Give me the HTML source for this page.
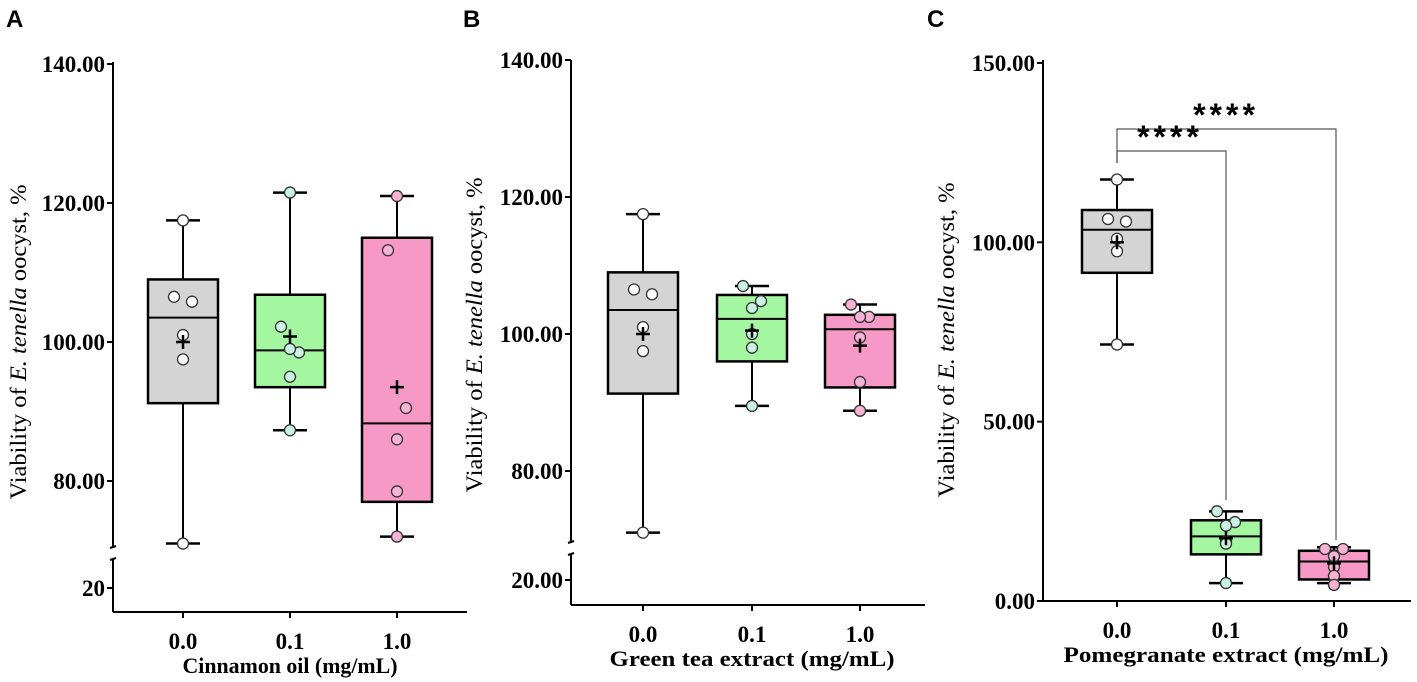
<!DOCTYPE html>
<html><head><meta charset="utf-8"><style>
body{margin:0;background:#fff;}
svg{display:block;font-family:"Liberation Serif",serif;}
.tk{font-weight:bold;font-size:23px;}
.tt{font-weight:bold;font-size:22px;}
.yt{font-weight:normal;font-size:23px;}
</style></head><body>
<svg id="chart" width="1417" height="682" viewBox="0 0 1417 682" xmlns="http://www.w3.org/2000/svg"></svg>
<script>
const categories = ["0.0","0.1","1.0"];
// Panel A - cinnamon oil
const aQ1=[91.2,93.5,77], aQ3=[109,106.8,115], aMed=[103.5,98.8,88.3], aMean=[100,100.8,93.5];
const aMin=[71,87.3,72], aMax=[117.5,121.5,121];
const aPts=[[106.5,105.8,101,97.5,117.5,71],[102.2,98.5,99,95,121.5,87.3],[113.2,90.5,86,78.5,121,72]];
// Panel B - green tea
const bQ1=[91.3,96,92.2], bQ3=[109,105.7,102.8], bMed=[103.5,102.2,100.7], bMean=[100,100.5,98.3];
const bMin=[71,89.5,88.8], bMax=[117.5,107,104.3];
const bPts=[[106.5,105.8,101,97.5,117.5,71],[107,104.8,103.8,100,98,89.5],[104.3,102.5,102.5,99.5,93,88.8]];
// Panel C - pomegranate
const cQ1=[91.5,13,6], cQ3=[109,22.5,14], cMed=[103.5,18,11], cMean=[100,17.5,10.5];
const cMin=[71.5,5,5], cMax=[117.5,25,15];
const cPts=[[106.5,105.8,101,97.5,117.5,71.5],[25,22,21,16.5,16,5],[14.5,14.5,12.5,9.5,7,4.5]];
const aTicks=["140.00","120.00","100.00","80.00"], aTickVals=[140,120,100,80];
const bTicks=["140.00","120.00","100.00","80.00"], bTickVals=[140,120,100,80];
const cTicks=["150.00","100.00","50.00","0.00"], cTickVals=[150,100,50,0];

const NS="http://www.w3.org/2000/svg";
const svg=document.getElementById('chart');
function mk(tag,attrs,parent,name){const e=document.createElementNS(NS,tag);for(const k in attrs)e.setAttribute(k,attrs[k]);(parent||svg).appendChild(e);


return e;}
const fills=["#d4d4d4","#a4f7a0","#f799c6"], ptFill=["#ffffff","#c9f2e2","#f6b3d3"];

function panel(p){
  const g=mk('g',{},svg,p.id);
  const y=p.y;
  if(p.brk){
    mk('line',{x1:p.ax,y1:p.top,x2:p.ax,y2:p.brk[0],stroke:'#000','stroke-width':2},g,'y-axis-upper');
    mk('line',{x1:p.ax,y1:p.brk[1],x2:p.ax,y2:p.bot,stroke:'#000','stroke-width':2},g,'y-axis-lower');
    mk('line',{x1:p.ax-3,y1:p.brk[0],x2:p.ax+3,y2:p.brk[0]-2,stroke:'#000','stroke-width':2},g,'axis-break-mark');
    mk('line',{x1:p.ax-3,y1:p.brk[1]+2,x2:p.ax+3,y2:p.brk[1],stroke:'#000','stroke-width':2},g,'axis-break-mark');
    mk('line',{x1:p.ax-6,y1:p.lowY,x2:p.ax,y2:p.lowY,stroke:'#000','stroke-width':2},g,'y-tick');
    const t=mk('text',{x:p.ax-8,y:p.lowY+8,'text-anchor':'end',class:'tk'},g,'y-tick-label');t.textContent=p.lowLab;
  } else mk('line',{x1:p.ax,y1:p.top,x2:p.ax,y2:p.bot,stroke:'#000','stroke-width':2},g,'y-axis');
  mk('line',{x1:p.ax,y1:p.bot,x2:p.xend,y2:p.bot,stroke:'#000','stroke-width':2},g,'x-axis');
  p.tv.forEach((v,i)=>{mk('line',{x1:p.ax-6,y1:y(v),x2:p.ax,y2:y(v),stroke:'#000','stroke-width':2},g,'y-tick');
    const t=mk('text',{x:p.ax-8,y:y(v)+8,'text-anchor':'end',class:'tk'},g,'y-tick-label');t.textContent=p.tl[i];});
  categories.forEach((c,i)=>{const x=p.cx[i];
    mk('line',{x1:x,y1:p.bot,x2:x,y2:p.bot+6,stroke:'#000','stroke-width':2},g,'x-tick');
    const t=mk('text',{x:x,y:p.bot+37,'text-anchor':'middle',class:'tk'},g,'x-tick-label');t.textContent=c;
    const hw=35;
    mk('line',{x1:x,y1:y(p.max[i]),x2:x,y2:y(p.min[i]),stroke:'#000','stroke-width':2},g,'whisker');
    mk('line',{x1:x-17,y1:y(p.max[i]),x2:x+17,y2:y(p.max[i]),stroke:'#000','stroke-width':2.5},g,'whisker-cap-max');
    mk('line',{x1:x-17,y1:y(p.min[i]),x2:x+17,y2:y(p.min[i]),stroke:'#000','stroke-width':2.5},g,'whisker-cap-min');
    mk('rect',{x:x-hw,y:y(p.q3[i]),width:2*hw,height:y(p.q1[i])-y(p.q3[i]),fill:fills[i],stroke:'#000','stroke-width':2.5},g,'box-'+c);
    mk('line',{x1:x-hw,y1:y(p.med[i]),x2:x+hw,y2:y(p.med[i]),stroke:'#000','stroke-width':2},g,'median-line');
    p.pts[i].forEach((v,j)=>{const dx=(j<2)?(j==0?-9:9):0;
      mk('circle',{cx:x+dx,cy:y(v),r:5.5,fill:ptFill[i],stroke:'#333','stroke-width':1.3},g,'data-point');});
    const my=y(p.mean[i]);
    mk('path',{d:`M${x-7},${my}H${x+7}M${x},${my-7}V${my+7}`,stroke:'#000','stroke-width':2.5},g,'mean-marker');
  });
  const yt=mk('text',{x:0,y:0,'text-anchor':'middle',class:'yt',textLength:'315',lengthAdjust:'spacingAndGlyphs',transform:`translate(${p.tx},${p.tyc}) rotate(-90)`},g,'y-axis-title');
  yt.innerHTML='Viability of <tspan font-style="italic">E. tenella</tspan> oocyst, %';
  const xt=mk('text',{x:p.cx[1],y:p.bot+61,'text-anchor':'middle',class:'tt',textLength:p.xtl,lengthAdjust:'spacingAndGlyphs'},g,'x-axis-title');xt.textContent=p.xt;
  const L=mk('text',{x:p.lx,y:27,'font-family':'Liberation Sans','font-weight':'bold','font-size':'24'},g,'panel-label');L.textContent=p.id.slice(-1).toUpperCase();
  return g;
}
panel({id:'panel-a',ax:113,top:62,bot:612,xend:467,brk:[548,558],lowY:588,lowLab:'20',y:v=>342-(v-100)*6.95,
  tv:aTickVals,tl:aTicks,cx:[183,290,397],q1:aQ1,q3:aQ3,med:aMed,mean:aMean,min:aMin,max:aMax,pts:aPts,tx:26,tyc:342,xt:'Cinnamon oil (mg/mL)',xtl:215,lx:6});
panel({id:'panel-b',ax:571,top:60,bot:605,xend:925,brk:[543,553],lowY:580,lowLab:'20.00',y:v=>334-(v-100)*6.85,
  tv:bTickVals,tl:bTicks,cx:[643,752,860],q1:bQ1,q3:bQ3,med:bMed,mean:bMean,min:bMin,max:bMax,pts:bPts,tx:482,tyc:335,xt:'Green tea extract (mg/mL)',xtl:285,lx:463});
const pc=panel({id:'panel-c',ax:1043,top:60,bot:601,xend:1411,y:v=>601-v*3.587,
  tv:cTickVals,tl:cTicks,cx:[1117,1226,1334],q1:cQ1,q3:cQ3,med:cMed,mean:cMean,min:cMin,max:cMax,pts:cPts,tx:954,tyc:340,xt:'Pomegranate extract (mg/mL)',xtl:325,lx:927});
mk('path',{d:'M1117,163V129H1336V540',fill:'none',stroke:'#555','stroke-width':1.2},pc,'bracket-0-vs-1');
mk('path',{d:'M1117,163V151H1226V500',fill:'none',stroke:'#555','stroke-width':1.2},pc,'bracket-0-vs-01');
let s=mk('text',{x:1226,y:126,'text-anchor':'middle','font-family':'Liberation Sans','font-weight':'bold','font-size':'32','letter-spacing':'4'},pc,'significance-stars');s.textContent='****';
s=mk('text',{x:1170,y:148,'text-anchor':'middle','font-family':'Liberation Sans','font-weight':'bold','font-size':'32','letter-spacing':'4'},pc,'significance-stars');s.textContent='****';
</script>
</body></html>
